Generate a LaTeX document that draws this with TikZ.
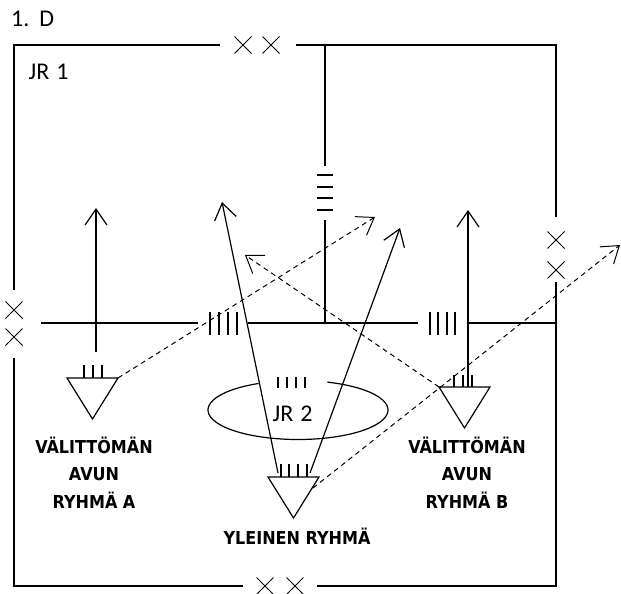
\documentclass[tikz,border=0pt]{standalone}
\usepackage{fontspec}
\usepackage{xcolor}
\definecolor{inkmain}{HTML}{000000}
\newfontfamily\jrfont{Carlito}
\newfontfamily\groupfont{DejaVu Sans}[FakeStretch=0.9]
\usetikzlibrary{arrows.meta, shapes.misc}

\begin{document}
\begin{tikzpicture}[
        x=1pt, y=-1pt,
        line width=1.2pt,
        draw=inkmain,
        cross_mark/.style={
            draw=inkmain,
            cross out,
            minimum size=16pt,
            inner sep=0pt,
            line width=1pt
        },
        tick_line/.style={line width=1.2pt},
        move_arrow/.style={
            -{Straight Barb[length=16pt, width=22pt]},
            line width=1.2pt
        },
        dash_arrow/.style={
            move_arrow,
            line width=1pt,
            dash pattern=on 5pt off 4pt
        },
        group_label/.style={
            font=\groupfont\bfseries\fontsize{17.8}{27.5}\selectfont,
            text=inkmain,
            align=center,
            anchor=base,
            inner sep=0pt
        },
        jr_label/.style={
            font=\jrfont\fontsize{24}{28}\selectfont,
            text=inkmain,
            anchor=base west,
            inner sep=0pt
        }
    ]

    \useasboundingbox (0,0) rectangle (621,594);

    % Outer frame (JR 1) with its crossings
    \draw (220,45) -- (14,45) -- (14,290);
    \draw (296,45) -- (556,45) -- (556,217);
    \draw (14,358) -- (14,586) -- (243,586);
    \draw (317,586) -- (556,586) -- (556,282);
    \foreach \pos [count=\i] in {(243,45), (271,45), (556,240), (556,270),
                                  (14,310), (14,337), (265,586), (295,586)}
        \node[cross_mark] (cross\i) at \pos {};

    % Titles
    \node[jr_label] (title) at (10.5,27) {1.\hspace{10pt}D};
    \node[jr_label] (jr1) at (28,80) {JR\hspace{7pt}1};

    % Middle wall with its gate marks
    \draw (325,45) -- (325,166);
    \foreach \y in {175,187,198,210}
        \draw[tick_line] (317,\y) -- (333,\y);
    \draw (325,220) -- (325,323);

    % Cross wall with two gates
    \draw (41,323) -- (198,323);
    \draw (248,323) -- (418,323);
    \draw (468,323) -- (556,323);
    \foreach \x in {210,219,228,237}
        \draw[tick_line] (\x,312) -- (\x,335);
    \foreach \x in {430,438,447,455}
        \draw[tick_line] (\x,312) -- (\x,335);

    % JR 2 ring (open at the top)
    \coordinate (jr2_center) at (298,410);
    \draw ([shift={(116:90pt and 29.5pt)}]jr2_center)
        arc[start angle=116, end angle=431, x radius=90pt, y radius=29.5pt];
    \foreach \x in {278,287,296,305}
        \draw[tick_line] (\x,377) -- (\x,388);
    \node[jr_label] (jr2) at (272,421) {JR\hspace{7pt}2};

    % Group triangles
    \foreach \name/\x/\y in {A/92.5/378, B/464.5/387, C/293.5/477} {
        \coordinate (tri\name_l) at ({\x-25.5},\y);
        \coordinate (tri\name_r) at ({\x+25.5},\y);
        \coordinate (tri\name_b) at (\x,{\y+41});
        \draw[line join=miter] (tri\name_l) -- (tri\name_r) -- (tri\name_b) -- cycle;
    }
    \foreach \x in {84,93,102}
        \draw[tick_line] (\x,365) -- (\x,378);
    \foreach \x in {454,463,472}
        \draw[tick_line] (\x,375) -- (\x,387);
    \foreach \x in {281,289,298,307}
        \draw[tick_line] (\x,464) -- (\x,477);

    % Movement arrows
    \coordinate (startA) at (96,352);
    \coordinate (tipA) at (96,208);
    \coordinate (tipB) at (468,210);
    \coordinate (startC1) at (278,473);
    \coordinate (tipC1) at (222,202);
    \coordinate (startC2) at (310,473);
    \coordinate (tipC2) at (400,228);
    \draw[move_arrow] (startA) -- (tipA);
    \draw[move_arrow] (468,387) -- (tipB);
    \draw[move_arrow] (startC1) -- (tipC1);
    \draw[move_arrow] (startC2) -- (tipC2);

    % Dashed arrows
    \coordinate (dtipA) at (375,217);
    \coordinate (dtipB) at (245,255);
    \coordinate (dstartC) at (313,488);
    \coordinate (dtipC) at (620,245);
    \draw[dash_arrow] (triA_r) -- (dtipA);
    \draw[dash_arrow] (triB_l) -- (dtipB);
    \draw[dash_arrow] (dstartC) -- (dtipC);

    % Group labels (base = last line)
    \node[group_label] (labelA) at (94,508) {VÄLITTÖMÄN\\AVUN\\RYHMÄ A};
    \node[group_label] (labelB) at (467,508) {VÄLITTÖMÄN\\AVUN\\RYHMÄ B};
    \node[group_label] (labelC) at (297,544) {YLEINEN RYHMÄ};

\end{tikzpicture}
\end{document}
